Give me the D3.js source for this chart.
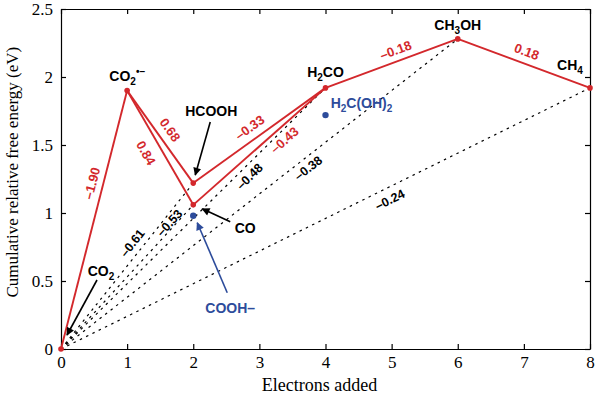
<!DOCTYPE html>
<html>
<head>
<meta charset="utf-8">
<script src="https://cdn.jsdelivr.net/npm/d3@7"></script>
<style>
  body { margin: 0; background: #fff; }
</style>
</head>
<body>
<div id="chart"></div>
<script>
// species along the CO2 reduction pathway
var species   = ["CO2", "CO2•–", "HCOOH", "CO", "H2CO", "CH3OH", "CH4"];
var electrons = [0, 1, 2, 2, 4, 6, 8];
var energies  = [0, 1.90, 1.22, 1.06, 1.92, 2.28, 1.92];

// red steps: from index -> to index, with step energies
var stepFrom   = [0, 1, 1, 2, 3, 4, 5];
var stepTo     = [1, 2, 3, 4, 4, 5, 6];
var stepLabels = ["–1.90", "0.68", "0.84", "–0.33", "–0.43", "–0.18", "0.18"];

// dotted lines from the origin, labelled with average potentials
var avgTo     = [2, 3, 4, 5, 6];
var avgLabels = ["–0.61", "–0.53", "–0.48", "–0.38", "–0.24"];

// side species (blue)
var sideSpecies   = ["COOH–", "H2C(OH)2"];
var sideElectrons = [2, 4];
var sideEnergies  = [0.98, 1.72];

// axes
var xTicks      = [0, 1, 2, 3, 4, 5, 6, 7, 8];
var yTicks      = [0, 0.5, 1, 1.5, 2, 2.5];
var yTickLabels = ["0", "0.5", "1", "1.5", "2", "2.5"];
var xTitle = "Electrons added";
var yTitle = "Cumulative relative free energy (eV)";

// ---- layout (where labels sit relative to their line / point) ----
var stepT    = [0.63, 0.50, 0.48, 0.48, 0.63, 0.56, 0.49];
var stepDist = [11, 12, -15, 12, -12, 11, 12];
var avgT     = [0.60, 0.85, 0.687, 0.608, 0.612];
var avgDist  = [10, 5, -10, -10, -12];

// label offsets [dx, dy(baseline)] from the point, and arrows [fromDx, fromDy, toDx, toDy]
var labelLayout = {
  "CO2":      {dx: 40,  dy: -73, arrow: [36, -69, 6, -14]},
  "CO2•–":    {dx: 0,   dy: -10},
  "HCOOH":    {dx: 18,  dy: -67, arrow: [17, -61, 2, -8]},
  "CO":       {dx: 52,  dy: 28,  arrow: [37, 17, 9, 4]},
  "H2CO":     {dx: 0,   dy: -11},
  "CH3OH":    {dx: 0,   dy: -9},
  "CH4":      {dx: -20, dy: -18},
  "COOH–":    {dx: 37,  dy: 97,  arrow: [34, 77, 4, 7]},
  "H2C(OH)2": {dx: 36,  dy: -7}
};

var red = "#d3282c", blue = "#2d4c9b";

var margin = {top: 9, right: 10, bottom: 47, left: 61},
    width  = 600 - margin.left - margin.right,
    height = 396 - margin.top - margin.bottom;

var svg = d3.select("#chart").append("svg")
  .attr("width", 600)
  .attr("height", 396);

var defs = svg.append("defs");
[["arrow-black", "#000"], ["arrow-blue", blue]].forEach(function(m) {
  defs.append("marker")
    .attr("id", m[0])
    .attr("viewBox", "0 0 10 10")
    .attr("refX", 9).attr("refY", 5)
    .attr("markerUnits", "userSpaceOnUse")
    .attr("markerWidth", 9).attr("markerHeight", 8)
    .attr("orient", "auto")
    .append("path")
    .attr("d", "M0,0L10,5L0,10z")
    .attr("fill", m[1]);
});

var g = svg.append("g")
  .attr("transform", "translate(" + margin.left + "," + margin.top + ")");

var x = d3.scaleLinear().domain([0, 8]).range([0, width]);
var y = d3.scaleLinear().domain([0, 2.5]).range([height, 0]);

// ---- axes (ticks inward on all four sides) ----
function styleAxis(sel) {
  sel.selectAll(".domain").attr("stroke", "#000").attr("stroke-width", 1.2);
  sel.selectAll(".tick line").attr("stroke", "#000").attr("stroke-width", 1.2);
  sel.selectAll("text")
    .attr("font-family", "'Liberation Serif', 'Times New Roman', serif")
    .attr("font-size", 17)
    .attr("fill", "#000");
}

g.append("g")
  .attr("transform", "translate(0," + height + ")")
  .call(d3.axisBottom(x).tickValues(xTicks).tickSizeInner(-5).tickSizeOuter(0).tickPadding(7)
    .tickFormat(function(d) { return d; }))
  .call(styleAxis);

g.append("g")
  .call(d3.axisTop(x).tickValues(xTicks).tickSizeInner(-5).tickSizeOuter(0).tickFormat(""))
  .call(styleAxis);

g.append("g")
  .call(d3.axisLeft(y).tickValues(yTicks).tickSizeInner(-5).tickSizeOuter(0).tickPadding(8)
    .tickFormat(function(d, i) { return yTickLabels[i]; }))
  .call(styleAxis);

g.append("g")
  .attr("transform", "translate(" + width + ",0)")
  .call(d3.axisRight(y).tickValues(yTicks).tickSizeInner(-5).tickSizeOuter(0).tickFormat(""))
  .call(styleAxis);

// axis titles
svg.append("text")
  .attr("x", margin.left + x(4) - 6)
  .attr("y", 391)
  .attr("text-anchor", "middle")
  .attr("font-family", "'Liberation Serif', 'Times New Roman', serif")
  .attr("font-size", 18)
  .text(xTitle);

svg.append("text")
  .attr("transform", "translate(18," + (margin.top + y(1.3)) + ") rotate(-90)")
  .attr("text-anchor", "middle")
  .attr("font-family", "'Liberation Serif', 'Times New Roman', serif")
  .attr("font-size", 17)
  .text(yTitle);

// ---- helpers ----
function px(i) { return [x(electrons[i]), y(energies[i])]; }

// position along a pixel segment, shifted to the text's "up" side by dist
function along(p0, p1, t, dist) {
  var dx = p1[0] - p0[0], dy = p1[1] - p0[1];
  var len = Math.sqrt(dx * dx + dy * dy);
  var ux = dx / len, uy = dy / len;
  return {
    x: p0[0] + dx * t + dist * uy,
    y: p0[1] + dy * t - dist * ux,
    angle: Math.atan2(uy, ux) * 180 / Math.PI
  };
}

// split a formula into runs: digits -> subscript, "•–" -> superscript
function formulaParts(name) {
  var parts = [];
  var re = /(\d+)|(•?–)|([^\d•–]+)/g, m;
  while ((m = re.exec(name)) !== null) {
    if (m[1]) parts.push([m[1], "sub"]);
    else if (m[2]) parts.push([m[2], m[2].length > 1 ? "sup" : "normal"]);
    else parts.push([m[3], "normal"]);
  }
  return parts;
}

function richText(sel, name) {
  var shift = 0;
  formulaParts(name).forEach(function(p) {
    var target = p[1] === "sub" ? 4 : p[1] === "sup" ? -6 : 0;
    sel.append("tspan")
      .attr("dy", target - shift)
      .attr("font-size", p[1] === "normal" ? null : 10)
      .text(p[0]);
    shift = target;
  });
}

// ---- dotted average lines from origin ----
g.selectAll(".avg")
  .data(avgTo)
  .enter().append("line")
  .attr("class", "avg")
  .attr("x1", x(0)).attr("y1", y(0))
  .attr("x2", function(d) { return x(electrons[d]); })
  .attr("y2", function(d) { return y(energies[d]); })
  .attr("stroke", "#000")
  .attr("stroke-width", 1.2)
  .attr("stroke-dasharray", "2.5,4.5");

g.selectAll(".avg-label")
  .data(avgTo)
  .enter().append("text")
  .attr("class", "avg-label")
  .each(function(d, i) {
    var p = along(px(0), px(d), avgT[i], avgDist[i]);
    d3.select(this)
      .attr("transform", "translate(" + p.x + "," + p.y + ") rotate(" + p.angle + ")");
  })
  .attr("text-anchor", "middle")
  .attr("dominant-baseline", "central")
  .attr("font-family", "'Liberation Sans', Arial, sans-serif")
  .attr("font-weight", "bold")
  .attr("font-size", 12.5)
  .attr("fill", "#000")
  .text(function(d, i) { return avgLabels[i]; });

// ---- red pathway ----
g.selectAll(".step")
  .data(stepFrom)
  .enter().append("line")
  .attr("class", "step")
  .attr("x1", function(d) { return x(electrons[d]); })
  .attr("y1", function(d) { return y(energies[d]); })
  .attr("x2", function(d, i) { return x(electrons[stepTo[i]]); })
  .attr("y2", function(d, i) { return y(energies[stepTo[i]]); })
  .attr("stroke", red)
  .attr("stroke-width", 1.9);

g.selectAll(".step-label")
  .data(stepFrom)
  .enter().append("text")
  .attr("class", "step-label")
  .each(function(d, i) {
    var p = along(px(d), px(stepTo[i]), stepT[i], stepDist[i]);
    d3.select(this)
      .attr("transform", "translate(" + p.x + "," + p.y + ") rotate(" + p.angle + ")");
  })
  .attr("text-anchor", "middle")
  .attr("dominant-baseline", "central")
  .attr("font-family", "'Liberation Sans', Arial, sans-serif")
  .attr("font-weight", "bold")
  .attr("font-size", 13)
  .attr("fill", red)
  .text(function(d, i) { return stepLabels[i]; });

g.selectAll(".pt")
  .data(species)
  .enter().append("circle")
  .attr("class", "pt")
  .attr("cx", function(d, i) { return x(electrons[i]); })
  .attr("cy", function(d, i) { return y(energies[i]); })
  .attr("r", 2.8)
  .attr("fill", red);

// ---- blue side species ----
g.selectAll(".side")
  .data(sideSpecies)
  .enter().append("circle")
  .attr("class", "side")
  .attr("cx", function(d, i) { return x(sideElectrons[i]); })
  .attr("cy", function(d, i) { return y(sideEnergies[i]); })
  .attr("r", 3.2)
  .attr("fill", blue);

// ---- species labels and arrows ----
var allLabels = species.map(function(name, i) {
  return {name: name, x: x(electrons[i]), y: y(energies[i]), color: "#000"};
}).concat(sideSpecies.map(function(name, i) {
  return {name: name, x: x(sideElectrons[i]), y: y(sideEnergies[i]), color: blue};
}));

allLabels.forEach(function(d) {
  var lay = labelLayout[d.name];
  var t = g.append("text")
    .attr("x", d.x + lay.dx)
    .attr("y", d.y + lay.dy)
    .attr("text-anchor", "middle")
    .attr("font-family", "'Liberation Sans', Arial, sans-serif")
    .attr("font-weight", "bold")
    .attr("font-size", 14)
    .attr("fill", d.color);
  richText(t, d.name);

  if (lay.arrow) {
    var a = lay.arrow;
    var isBlue = d.color === blue;
    g.append("line")
      .attr("x1", d.x + a[0]).attr("y1", d.y + a[1])
      .attr("x2", d.x + a[2]).attr("y2", d.y + a[3])
      .attr("stroke", d.color)
      .attr("stroke-width", 1.6)
      .attr("marker-end", "url(#" + (isBlue ? "arrow-blue" : "arrow-black") + ")");
  }
});
</script>
</body>
</html>
